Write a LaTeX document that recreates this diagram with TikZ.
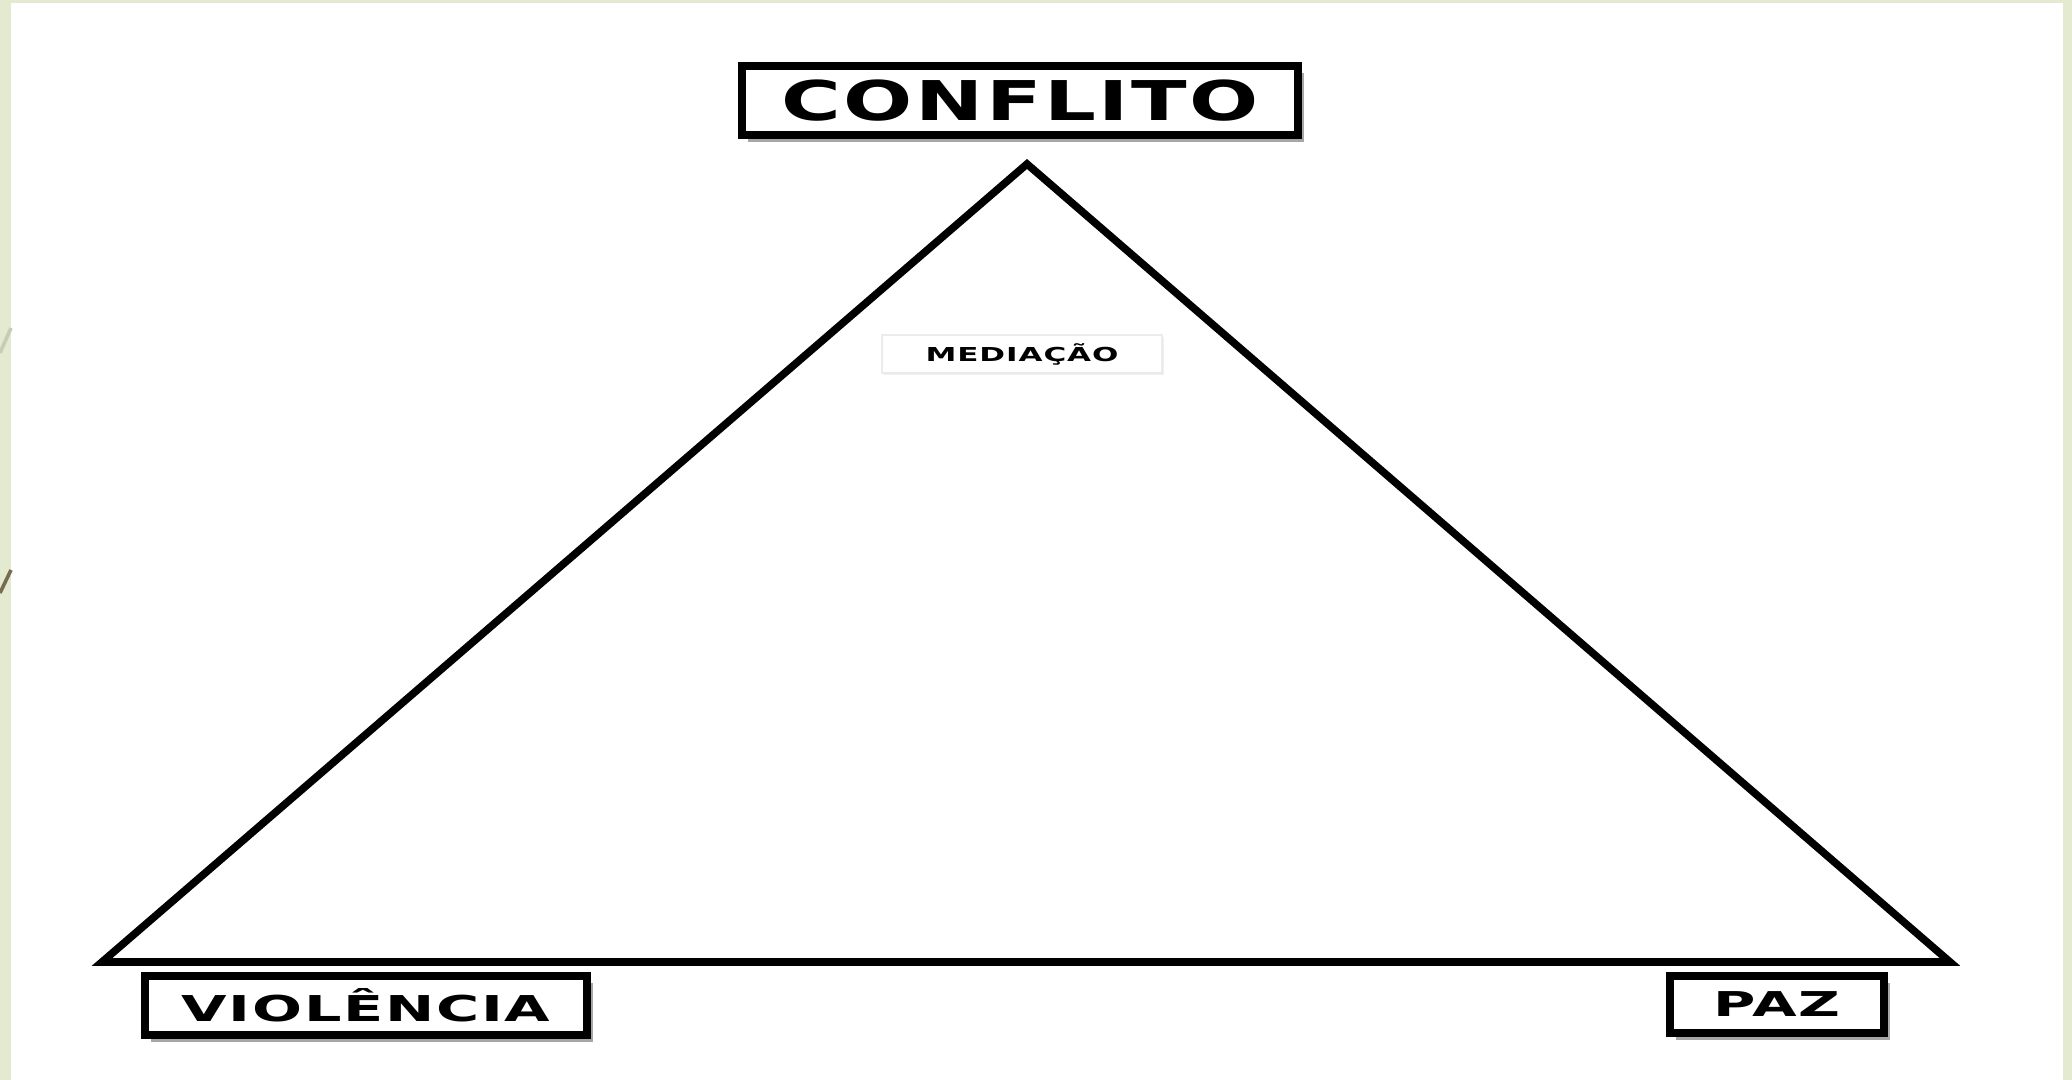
\documentclass[tikz,border=0pt]{standalone}
\usepackage{fontspec}
\setmainfont{DejaVu Sans}[LetterSpace=3]
\usepackage{graphicx}
\usetikzlibrary{shadows}
\definecolor{slidegreen}{RGB}{228,234,207}
\definecolor{slidegrey}{RGB}{200,204,182}
\definecolor{slidebrown}{RGB}{120,108,80}
\tikzset{
  figbox/.style={draw, line width=4pt, fill=white, inner sep=0pt,
    drop shadow={shadow xshift=3pt, shadow yshift=-3.5pt, fill=black, opacity=0.35},
    path picture={
      \fill (path picture bounding box.south west) rectangle ([xshift=4.5pt]path picture bounding box.north west);
      \fill (path picture bounding box.south east) rectangle ([xshift=-4.5pt]path picture bounding box.north east);}},
  figtag/.style={draw=black!8, line width=0.6pt, fill=white, inner sep=0pt,
    drop shadow={shadow xshift=1pt, shadow yshift=-1pt, fill=black, opacity=0.06}},
  figside/.style={line width=3.8pt, line join=miter},
}
\newcommand{\widetext}[2]{\resizebox{#1}{\height}{#2}}

\begin{document}
\begin{tikzpicture}[x=0.5pt, y=-0.5pt]
  \useasboundingbox (0,0) rectangle (2072,1080);
  \fill[slidegreen] (0,0) rectangle (2072,1080);
  \fill[white] (11,3) rectangle (2063,1080);
  \draw[slidegrey, line width=1.8pt] (0,353) -- (11,328);
  \draw[slidebrown, line width=1.8pt] (0,593) -- (11,570);
  % triangulo
  \coordinate (topo) at (1027,164);
  \coordinate (esq) at (102,962);
  \coordinate (dir) at (1950,962);
  \draw[figside] (esq) -- (topo) -- (dir) -- cycle;
  \node[figbox, minimum width=278pt, minimum height=34.5pt,
    font=\bfseries\fontsize{27.4pt}{30pt}\selectfont] (conflito) at (1020,100.5) {\widetext{238.5pt}{CONFLITO}};
  \node[figbox, minimum width=221pt, minimum height=29.5pt,
    font=\bfseries\fontsize{17.8pt}{20pt}\selectfont] (violencia) at (366,1005.5) {\widetext{184.5pt}{VIOLÊNCIA}};
  \node[figbox, minimum width=107pt, minimum height=28.5pt,
    font=\bfseries\fontsize{17.1pt}{20pt}\selectfont] (paz) at (1777,1004.5) {\widetext{63.5pt}{PAZ}};
  \node[figtag, minimum width=140pt, minimum height=19pt,
    font=\bfseries\fontsize{9.6pt}{11pt}\selectfont] (mediacao) at (1022,354) {\widetext{96.5pt}{MEDIAÇÃO}};
\end{tikzpicture}
\end{document}
